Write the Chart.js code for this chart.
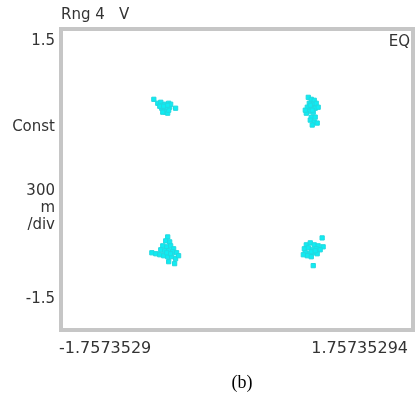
<!DOCTYPE html>
<html>
<head>
<meta charset="utf-8">
<script src="https://cdn.jsdelivr.net/npm/chart.js@4/dist/chart.umd.min.js"></script>
<style>
  body { margin: 0; background: #fff; }
  canvas { display: block; }
</style>
</head>
<body>
<canvas id="constellation" width="416" height="396"></canvas>
<script>
// axis range and labels as shown by the analyzer
const xRange = [-1.7573529, 1.75735294];
const yRange = [-1.5, 1.5];
const xTickLabels = ['-1.7573529', '1.75735294'];
const yTickLabels = ['1.5', '-1.5'];
const sideLabels = ['Const', '300', 'm', '/div'];

// symbol clusters, [I, Q]
const topLeft = [[-0.84,0.81],[-0.80,0.77],[-0.77,0.78],[-0.75,0.75],[-0.73,0.76],[-0.71,0.74],[-0.69,0.77],[-0.68,0.73],
  [-0.62,0.72],[-0.76,0.72],[-0.74,0.70],[-0.72,0.68],[-0.70,0.67],[-0.73,0.71],[-0.78,0.74],[-0.71,0.71],[-0.75,0.68],
  [-0.69,0.70],[-0.67,0.76],[-0.72,0.73],[-0.74,0.74],[-0.70,0.75]];
const topRight = [[0.72,0.83],[0.75,0.81],[0.78,0.80],[0.73,0.77],[0.77,0.76],[0.80,0.77],[0.71,0.73],[0.75,0.73],
  [0.79,0.72],[0.82,0.73],[0.73,0.69],[0.77,0.68],[0.70,0.67],[0.75,0.63],[0.79,0.63],[0.74,0.60],[0.78,0.58],
  [0.81,0.57],[0.76,0.55],[0.69,0.70],[0.76,0.70],[0.74,0.75]];
const bottomLeft = [[-0.70,-0.58],[-0.72,-0.62],[-0.68,-0.63],[-0.75,-0.67],[-0.71,-0.68],[-0.67,-0.67],[-0.64,-0.70],
  [-0.77,-0.71],[-0.73,-0.72],[-0.69,-0.72],[-0.65,-0.73],[-0.61,-0.74],[-0.86,-0.74],[-0.82,-0.75],[-0.78,-0.76],
  [-0.74,-0.77],[-0.70,-0.78],[-0.66,-0.78],[-0.62,-0.80],[-0.69,-0.83],[-0.63,-0.85],[-0.59,-0.77],[-0.71,-0.74],[-0.67,-0.75]];
const bottomRight = [[0.86,-0.59],[0.87,-0.68],[0.70,-0.66],[0.74,-0.64],[0.78,-0.66],[0.82,-0.67],[0.68,-0.70],
  [0.72,-0.69],[0.76,-0.71],[0.80,-0.70],[0.84,-0.71],[0.69,-0.74],[0.73,-0.75],[0.77,-0.74],[0.81,-0.75],[0.71,-0.77],
  [0.75,-0.78],[0.77,-0.87],[0.67,-0.76],[0.75,-0.73],[0.79,-0.72]];

const allPoints = topLeft.concat(topRight, bottomLeft, bottomRight).map(p => ({ x: p[0], y: p[1] }));

const labelFont = '15px "DejaVu Sans", sans-serif';
const labelColor = '#333';

// frame and instrument text around the plot
const framePlugin = {
  id: 'frame',
  beforeDatasetsDraw(chart) {
    const { ctx, chartArea: a } = chart;
    ctx.save();
    ctx.strokeStyle = '#c6c6c6';
    ctx.lineWidth = 4;
    ctx.strokeRect(a.left - 2, a.top - 2, a.right - a.left + 4, a.bottom - a.top + 4);
    ctx.restore();
  },
  afterDraw(chart) {
    const { ctx, chartArea: a, scales } = chart;
    ctx.save();
    ctx.font = labelFont;
    ctx.fillStyle = labelColor;
    ctx.textBaseline = 'middle';

    ctx.textAlign = 'left';
    ctx.fillText('Rng 4   V', a.left - 2, 15);

    ctx.textAlign = 'right';
    ctx.fillText('EQ', a.right - 1, a.top + 11);

    // left side labels
    const lx = a.left - 8;
    ctx.fillText(yTickLabels[0], lx, a.top + 10);
    ctx.fillText(sideLabels[0], lx, scales.y.getPixelForValue(0.53));
    ctx.fillText(sideLabels[1], lx, scales.y.getPixelForValue(-0.12));
    ctx.fillText(sideLabels[2], lx, scales.y.getPixelForValue(-0.29));
    ctx.fillText(sideLabels[3], lx, scales.y.getPixelForValue(-0.46));
    ctx.fillText(yTickLabels[1], lx, a.bottom - 29);

    // x range labels
    ctx.font = '16px "DejaVu Sans", sans-serif';
    ctx.textAlign = 'left';
    ctx.fillText(xTickLabels[0], scales.x.getPixelForValue(xRange[0]) - 4, a.bottom + 21);
    ctx.textAlign = 'right';
    ctx.fillText(xTickLabels[1], scales.x.getPixelForValue(xRange[1]) - 3, a.bottom + 21);

    // caption
    ctx.textAlign = 'center';
    ctx.font = '18px "Liberation Serif", "Times New Roman", serif';
    ctx.fillStyle = '#000';
    ctx.fillText('(b)', 242, 383);
    ctx.restore();
  }
};

const ctx = document.getElementById('constellation').getContext('2d');
const chart = new Chart(ctx, {
  type: 'scatter',
  data: {
    datasets: [{
      label: 'EQ',
      data: allPoints,
      pointStyle: 'rect',
      pointRadius: 3,
      backgroundColor: '#10ecf2',
      borderColor: '#22d8e0',
      borderWidth: 1
    }]
  },
  options: {
    responsive: false,
    animation: false,
    layout: { padding: { left: 63, top: 31, right: 5, bottom: 68 } },
    scales: {
      x: { display: false, min: xRange[0], max: xRange[1] },
      y: { display: false, min: yRange[0], max: yRange[1] }
    },
    plugins: {
      legend: { display: false },
      tooltip: { enabled: false }
    }
  },
  plugins: [framePlugin]
});
</script>
</body>
</html>
